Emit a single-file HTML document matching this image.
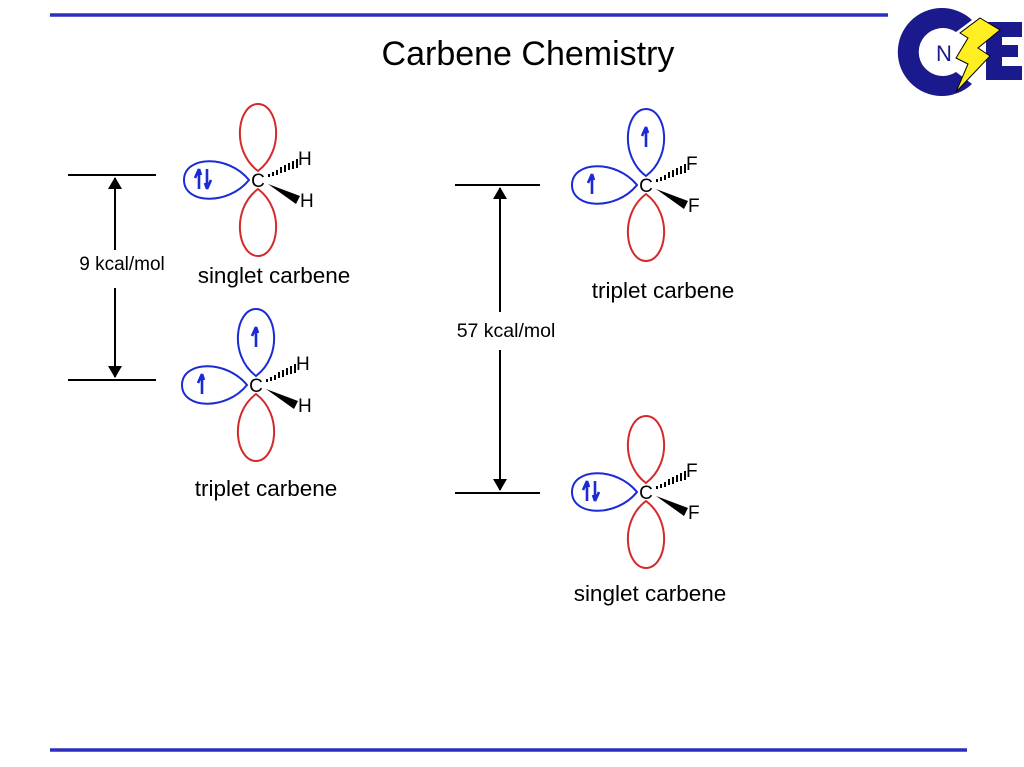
<!DOCTYPE html>
<html><head><style>body{margin:0;background:#fff}svg{display:block}text{font-family:"Liberation Sans",Arial,sans-serif}</style></head><body>
<svg width="1024" height="767" viewBox="0 0 1024 767" xmlns="http://www.w3.org/2000/svg">
<defs>
<path id="lobe" d="M0,-9 C-28,-30 -20,-76 0,-76 C20,-76 28,-30 0,-9Z" fill="none" stroke-width="2"/>
<path id="lobeL" d="M-9,0 C-30,-26 -74,-24 -74,0 C-74,24 -30,26 -9,0Z" fill="none" stroke-width="2"/>
<marker id="ah" markerWidth="12" markerHeight="14" refX="11" refY="7" orient="auto" markerUnits="userSpaceOnUse"><path d="M0,0 L12,7 L0,14Z" fill="#000"/></marker>
<g id="upE"><path d="M0,10 L0,-10 L-4,-1 M0,-10 L2,-4" stroke="#1a2bd6" stroke-width="2.6" fill="none"/></g>
<g id="dnE"><path d="M0,-10 L0,10 L4,1 M0,10 L-2,4" stroke="#1a2bd6" stroke-width="2.6" fill="none"/></g>
<g id="wedges">
<g stroke="#000" stroke-width="2"><line x1="11" y1="-3" x2="11" y2="-6"/><line x1="15" y1="-4" x2="15" y2="-8"/><line x1="19" y1="-5" x2="19" y2="-10"/><line x1="23" y1="-7" x2="23" y2="-13"/><line x1="27" y1="-8" x2="27" y2="-15"/><line x1="31" y1="-10" x2="31" y2="-17"/><line x1="35" y1="-11" x2="35" y2="-19"/><line x1="39" y1="-12" x2="39" y2="-21"/></g>
<path d="M10,4 L42,16 L38,24Z" fill="#000"/>
</g>
</defs>
<line x1="50" y1="15" x2="888" y2="15" stroke="#2a2fc0" stroke-width="3.5"/>
<line x1="50" y1="750" x2="967" y2="750" stroke="#2a2fc0" stroke-width="3.5"/>
<text x="528" y="65" font-size="34" text-anchor="middle">Carbene Chemistry</text>
<path d="M972,20 A44,44 0 1 0 972,84 L956,72 A24,24 0 1 1 956,32Z" fill="#1a1a8c"/>
<text x="944" y="61" font-size="22" fill="#1a1a8c" text-anchor="middle">N</text>
<path d="M986,22 H1022 V37 H1002 V45 H1018 V57 H1002 V66 H1022 V80 H986Z" fill="#1a1a8c"/>
<path d="M980,18 L1000,30 L978,48 L990,56 L956,92 L968,64 L956,58 L968,38 L960,33Z" fill="#ffee22" stroke="#000" stroke-width="1"/>
<line x1="68" y1="175" x2="156" y2="175" stroke="#000" stroke-width="2"/>
<line x1="68" y1="380" x2="156" y2="380" stroke="#000" stroke-width="2"/>
<line x1="115" y1="250" x2="115" y2="178" stroke="#000" stroke-width="2" marker-end="url(#ah)"/>
<line x1="115" y1="288" x2="115" y2="377" stroke="#000" stroke-width="2" marker-end="url(#ah)"/>
<text x="122" y="270" font-size="19" text-anchor="middle">9 kcal/mol</text>
<line x1="455" y1="185" x2="540" y2="185" stroke="#000" stroke-width="2"/>
<line x1="455" y1="493" x2="540" y2="493" stroke="#000" stroke-width="2"/>
<line x1="500" y1="312" x2="500" y2="188" stroke="#000" stroke-width="2" marker-end="url(#ah)"/>
<line x1="500" y1="350" x2="500" y2="490" stroke="#000" stroke-width="2" marker-end="url(#ah)"/>
<text x="506" y="337" font-size="19.5" text-anchor="middle">57 kcal/mol</text>
<g transform="translate(258,180)">
<use href="#lobe" stroke="#d42a2a"/>
<use href="#lobe" stroke="#d42a2a" transform="rotate(180)"/>
<use href="#lobeL" stroke="#1a2bd6"/>
<use href="#upE" x="-59" y="-1"/><use href="#dnE" x="-51" y="-1"/>
<text x="0" y="7" font-size="19" text-anchor="middle">C</text>
<use href="#wedges"/>
<text x="40" y="-15" font-size="19">H</text><text x="42" y="27" font-size="19">H</text>
</g>
<text x="274" y="283" font-size="22.5" text-anchor="middle">singlet carbene</text>
<g transform="translate(256,385)">
<use href="#lobe" stroke="#1a2bd6"/>
<use href="#lobe" stroke="#d42a2a" transform="rotate(180)"/>
<use href="#lobeL" stroke="#1a2bd6"/>
<use href="#upE" x="-54" y="-1"/><use href="#upE" x="0" y="-48"/>
<text x="0" y="7" font-size="19" text-anchor="middle">C</text>
<use href="#wedges"/>
<text x="40" y="-15" font-size="19">H</text><text x="42" y="27" font-size="19">H</text>
</g>
<text x="266" y="496" font-size="22.5" text-anchor="middle">triplet carbene</text>
<g transform="translate(646,185)">
<use href="#lobe" stroke="#1a2bd6"/>
<use href="#lobe" stroke="#d42a2a" transform="rotate(180)"/>
<use href="#lobeL" stroke="#1a2bd6"/>
<use href="#upE" x="-54" y="-1"/><use href="#upE" x="0" y="-48"/>
<text x="0" y="7" font-size="19" text-anchor="middle">C</text>
<use href="#wedges"/>
<text x="40" y="-15" font-size="19">F</text><text x="42" y="27" font-size="19">F</text>
</g>
<text x="663" y="298" font-size="22.5" text-anchor="middle">triplet carbene</text>
<g transform="translate(646,492)">
<use href="#lobe" stroke="#d42a2a"/>
<use href="#lobe" stroke="#d42a2a" transform="rotate(180)"/>
<use href="#lobeL" stroke="#1a2bd6"/>
<use href="#upE" x="-59" y="-1"/><use href="#dnE" x="-51" y="-1"/>
<text x="0" y="7" font-size="19" text-anchor="middle">C</text>
<use href="#wedges"/>
<text x="40" y="-15" font-size="19">F</text><text x="42" y="27" font-size="19">F</text>
</g>
<text x="650" y="601" font-size="22.5" text-anchor="middle">singlet carbene</text>
</svg>
</body></html>
